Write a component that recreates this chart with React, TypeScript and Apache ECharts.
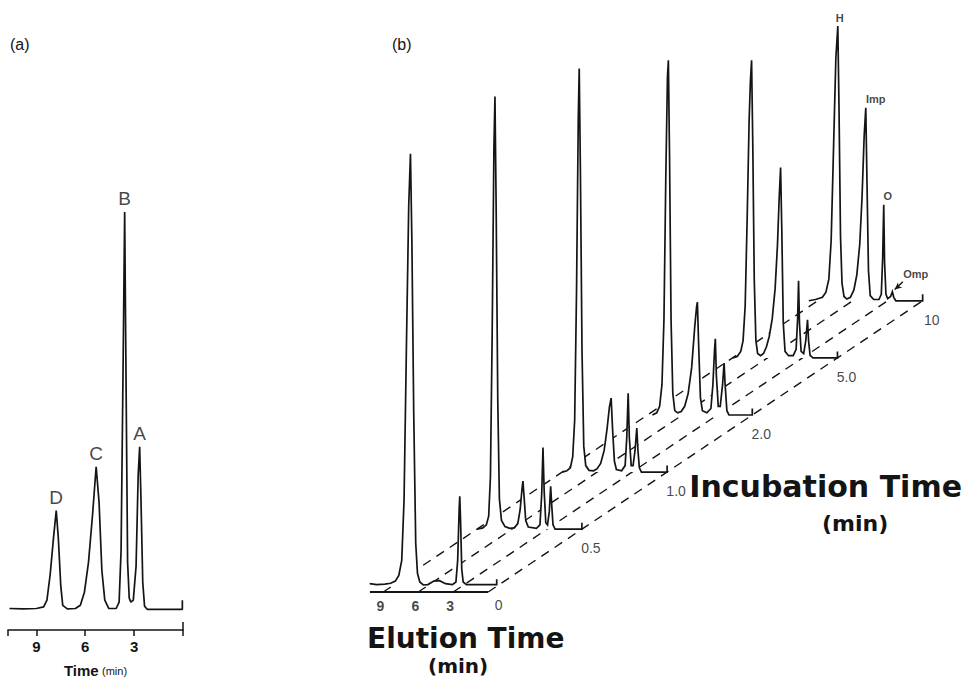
import React, { useEffect, useRef } from 'react';
import * as echarts from 'echarts';

// ---------- Panel (a): single chromatogram ----------
const elutionTicksA = [9, 6, 3];
// [elution time (min), detector signal (relative, B = 100)]
const traceA: [number, number][] = [
  [10.65, 0.4], [9.8, 0.3], [9.0, 0.4], [8.55, 0.8], [8.35, 2.5], [8.15, 9], [7.95, 18], [7.78, 25],
  [7.65, 18], [7.5, 6], [7.38, 1.2], [7.1, 0.3], [6.6, 0.4], [6.3, 1.2], [6.05, 4.5], [5.8, 12], [5.55, 24],
  [5.33, 36], [5.15, 27], [4.98, 10], [4.8, 2.5], [4.55, 0.4], [4.1, 0.4], [3.92, 2], [3.8, 15], [3.68, 60],
  [3.58, 100], [3.5, 60], [3.4, 12], [3.3, 3], [3.2, 2], [3.05, 2.5], [2.88, 11], [2.75, 34], [2.66, 41],
  [2.58, 28], [2.47, 7], [2.36, 1], [2.2, 0.2], [0.04, 0.2], [0.04, 2.5]
];
const peakNamesA = ['D', 'C', 'B', 'A'];
const peakTimesA = [7.78, 5.33, 3.58, 2.66];
const peakHeightsA = [25, 36, 100, 41];

// ---------- Panel (b): chromatograms vs incubation time ----------
const incubationLabels = ['0', '0.5', '1.0', '2.0', '5.0', '10'];
const elutionTicksB = [9, 6, 3, 0];
const elutionTickLabelsB = [9, 6, 3];
const trace0: [number, number][] = [
  [10.9, 0.6], [10.3, 0.4], [9.6, 0.5], [9.1, 0.7], [8.7, 1.2], [8.4, 2.5], [8.15, 6], [7.95, 20], [7.75, 55],
  [7.55, 88], [7.4, 100], [7.28, 80], [7.12, 40], [6.95, 10], [6.8, 3], [6.6, 1], [6.3, 0.3], [5.9, 0.4],
  [5.4, 1.2], [4.9, 1.3], [4.4, 0.6], [3.8, 0.4], [3.5, 1], [3.35, 6], [3.22, 18], [3.17, 20.8], [3.1, 15],
  [3.0, 4], [2.88, 1], [2.6, 0.4], [0, 0.4], [0, 1.6]
];
const trace05: [number, number][] = [
  [9.0, 0], [8.5, 0.3], [8.2, 1], [8.0, 3], [7.85, 12], [7.7, 45], [7.55, 88], [7.46, 100], [7.36, 75],
  [7.22, 30], [7.08, 7], [6.9, 2], [6.6, 0.6], [6.2, 0.2], [5.8, 0.3], [5.5, 1.3], [5.3, 4.5], [5.15, 9],
  [5.06, 11.1], [4.95, 7], [4.82, 2], [4.6, 0.5], [3.9, 0.2], [3.6, 1], [3.45, 8], [3.34, 18.9], [3.24, 9],
  [3.1, 1.5], [2.95, 1], [2.8, 4], [2.68, 9.9], [2.6, 6], [2.48, 1], [2.3, 0], [0, 0], [0, 1.5]
];
const trace10: [number, number][] = [
  [9.0, 0], [8.6, 0.3], [8.3, 1], [8.1, 3.5], [7.93, 12], [7.77, 42], [7.62, 82], [7.54, 93.3], [7.44, 70],
  [7.3, 28], [7.15, 6], [6.98, 1.5], [6.7, 0.4], [6.3, 0.3], [6.0, 0.8], [5.7, 2], [5.4, 5], [5.15, 10],
  [4.95, 15], [4.8, 17.1], [4.68, 10], [4.52, 2.5], [4.35, 0.6], [3.9, 0.3], [3.6, 1.5], [3.46, 8],
  [3.34, 18.2], [3.24, 8], [3.08, 1.5], [2.92, 1.5], [2.75, 5], [2.6, 10.2], [2.5, 5], [2.38, 1], [2.2, 0],
  [0, 0], [0, 1.5]
];
const trace20: [number, number][] = [
  [8.57, 0], [8.2, 0.5], [7.95, 2], [7.75, 7], [7.58, 22], [7.42, 55], [7.28, 78], [7.2, 82], [7.1, 60],
  [6.97, 22], [6.82, 5], [6.65, 1], [6.4, 0.5], [6.1, 0.8], [5.8, 2], [5.5, 5], [5.2, 11], [4.95, 20],
  [4.78, 25], [4.71, 26.1], [4.6, 16], [4.45, 4], [4.28, 1], [3.9, 0.5], [3.55, 1.5], [3.38, 7], [3.24, 15],
  [3.17, 17.6], [3.08, 9], [2.92, 2], [2.75, 2], [2.55, 7], [2.42, 12], [2.33, 7], [2.18, 1], [2.0, 0],
  [0, 0], [0, 1.5]
];
const trace50: [number, number][] = [
  [9.0, 0], [8.6, 0.3], [8.3, 1.5], [8.1, 4], [7.92, 12], [7.75, 32], [7.58, 55], [7.47, 64], [7.37, 68.8],
  [7.27, 50], [7.14, 18], [7.0, 4], [6.85, 1], [6.6, 0.5], [6.35, 1], [6.1, 2.5], [5.85, 5], [5.6, 9],
  [5.35, 16], [5.15, 26], [5.0, 37], [4.88, 44], [4.78, 30], [4.65, 8], [4.5, 1.5], [4.2, 0.5], [3.8, 0.5],
  [3.55, 2], [3.42, 9], [3.34, 17.8], [3.26, 8], [3.12, 1.5], [2.9, 1], [2.72, 4], [2.57, 8.8], [2.48, 4],
  [2.35, 0.6], [2.1, 0], [0, 0], [0, 1.5]
];
const trace100: [number, number][] = [
  [9.77, 0], [9.2, 0.3], [8.6, 0.8], [8.3, 2], [8.05, 5], [7.85, 14], [7.65, 35], [7.45, 56], [7.28, 63.5],
  [7.18, 45], [7.05, 15], [6.92, 4], [6.75, 1], [6.5, 0.4], [6.2, 0.8], [5.9, 2.5], [5.65, 6], [5.4, 13],
  [5.2, 24], [5.02, 38], [4.88, 44.6], [4.78, 28], [4.65, 7], [4.5, 1.2], [4.2, 0.3], [3.75, 0.3],
  [3.55, 1.5], [3.43, 10], [3.34, 22.2], [3.27, 9], [3.15, 1.5], [3.0, 0.5], [2.75, 1], [2.6, 2.1],
  [2.48, 0.8], [2.3, 0], [0, 0], [0, 1.5]
];
const tracesB = [trace0, trace05, trace10, trace20, trace50, trace100];
const peakNamesB = ['H', 'Imp', 'O', 'Omp'];
const peakTimesB = [7.28, 4.88, 3.34, 2.6];
const peakHeightsB = [63.5, 44.6, 22.2, 2.1];

// oblique projection of the incubation-time axis
const DX = 7.31; // elution-minutes shift per incubation step
const DY = 13.2; // signal-units shift per incubation step
const GAP = 0.1; // distance of first trace behind front edge
const BACK = tracesB.length - 1 + GAP;

const INK = '#141414';
const FONT = '"Liberation Sans", Arial, sans-serif';
const TITLE_FONT = '"DejaVu Sans", "Open Sans", sans-serif';

const proj = (t: number, s: number, d: number) => [-t + DX * d, s + DY * d];

function buildOption(): any {
  const dashed = elutionTicksB.map((t) => ({
    type: 'line', xAxisIndex: 1, yAxisIndex: 1, z: 1, silent: true, showSymbol: false,
    data: [proj(t, 0, 0), proj(t, 0, BACK)],
    lineStyle: { color: INK, width: 1.4, type: [9, 7] }
  }));

  const labelsB: any[] = [];
  tracesB.forEach((_tr, k) => {
    labelsB.push({
      value: proj(0, 0, k + GAP),
      label: {
        formatter: incubationLabels[k], position: 'bottom', distance: 12,
        offset: [k === 0 ? 2 : 9, 0], fontSize: 14, fontFamily: FONT, color: INK
      }
    });
  });
  elutionTickLabelsB.forEach((t) => {
    labelsB.push({
      value: proj(t, 0, 0),
      label: {
        formatter: String(t), position: 'bottom', distance: 7, offset: [-3, 0],
        fontSize: 14, fontWeight: 'bold', fontFamily: FONT, color: INK
      }
    });
  });
  const nameOffsets = [[2, 0], [10, 0], [4, 0], [0, 0]];
  peakNamesB.forEach((n, i) => {
    if (n === 'Omp') return;
    labelsB.push({
      value: proj(peakTimesB[i], peakHeightsB[i], BACK),
      label: {
        formatter: n, position: 'top', distance: 3, offset: nameOffsets[i],
        fontSize: 11, fontWeight: 'bold', fontFamily: FONT, color: INK
      }
    });
  });
  const ompT = peakTimesB[3];
  const ompH = peakHeightsB[3];
  const ompTip = proj(ompT - 0.2, ompH + 0.5, BACK);
  const ompTail = proj(ompT - 0.9, ompH + 2.3, BACK);
  labelsB.push({
    value: proj(ompT - 2.0, ompH + 4.2, BACK),
    label: {
      formatter: 'Omp', position: 'inside', fontSize: 11, fontWeight: 'bold', fontFamily: FONT, color: INK
    }
  });

  const labelsA = peakNamesA.map((n, i) => ({
    value: [peakTimesA[i], peakHeightsA[i]],
    label: {
      formatter: n, position: 'top', distance: 4, offset: [0, 0],
      fontSize: 19, fontFamily: FONT, color: INK
    }
  }));

  const order = tracesB.map((_, k) => [tracesB.length - 1 - k]);

  return {
    animation: false,
    backgroundColor: '#fff',
    grid: [
      { left: 8, top: 212, width: 175, height: 421 },
      { left: 360, top: 8, width: 606, height: 584 }
    ],
    xAxis: [
      {
        gridIndex: 0, type: 'value', min: 0, max: 10.74, interval: 3, inverse: true,
        axisLine: { show: true, onZero: false, lineStyle: { color: INK, width: 1.5 } },
        axisTick: { show: true, length: 6, lineStyle: { color: INK, width: 1.5 } },
        axisLabel: {
          formatter: (v: number) => (elutionTicksA.includes(v) ? String(v) : ''),
          fontSize: 15, fontWeight: 'bold', fontFamily: FONT, color: INK, margin: 9
        },
        splitLine: { show: false },
        name: '{t|Time} {m|(min)}', nameLocation: 'middle', nameGap: 33,
        nameTextStyle: {
          rich: {
            t: { fontSize: 15, fontWeight: 'bold', fontFamily: FONT, color: INK },
            m: { fontSize: 11, fontFamily: FONT, color: INK }
          }
        }
      },
      { gridIndex: 1, type: 'value', min: -11, max: 41, show: false }
    ],
    yAxis: [
      { gridIndex: 0, type: 'value', min: -5, max: 100, show: false },
      { gridIndex: 1, type: 'value', min: 0, max: 135, show: false }
    ],
    series: [
      {
        type: 'line', xAxisIndex: 0, yAxisIndex: 0, data: traceA, showSymbol: false, silent: true,
        lineStyle: { color: INK, width: 1.7 }, z: 3, clip: false
      },
      {
        type: 'line', xAxisIndex: 0, yAxisIndex: 0, data: [[0, -5], [0, -3]], showSymbol: false, silent: true,
        lineStyle: { color: INK, width: 1.5 }, z: 3, clip: false
      },
      {
        type: 'scatter', xAxisIndex: 0, yAxisIndex: 0, symbolSize: 0, silent: true,
        label: { show: true }, data: labelsA, z: 5
      },
      {
        type: 'line', xAxisIndex: 1, yAxisIndex: 1, showSymbol: false, silent: true, z: 1,
        data: [proj(10.15, 0, 0), proj(0, 0, 0)], lineStyle: { color: INK, width: 1.8 }
      },
      ...dashed,
      {
        type: 'custom', xAxisIndex: 1, yAxisIndex: 1, z: 3, silent: true, clip: false,
        data: order,
        renderItem: (_params: any, api: any) => {
          const k = api.value(0) as number;
          const d = k + GAP;
          const tr = tracesB[k];
          const pts = tr.map(([t, s]) => api.coord(proj(t, s, d)));
          const b0 = api.coord(proj(tr[0][0], 0, d));
          const bN = api.coord(proj(tr[tr.length - 1][0], 0, d));
          const z = (tracesB.length - 1 - k) * 2;
          return {
            type: 'group',
            children: [
              { type: 'polygon', z2: z, shape: { points: [b0, ...pts, bN] }, style: { fill: '#ffffff', stroke: null } },
              { type: 'polyline', z2: z + 1, shape: { points: pts }, style: { fill: null, stroke: INK, lineWidth: 1.7 } }
            ]
          };
        }
      },
      {
        type: 'line', xAxisIndex: 1, yAxisIndex: 1, z: 4, silent: true, showSymbol: true,
        data: [
          { value: ompTail, symbol: 'none' },
          { value: ompTip, symbol: 'arrow', symbolSize: [5, 7], symbolRotate: 130 }
        ],
        lineStyle: { color: INK, width: 1.4 }, itemStyle: { color: INK }
      },
      {
        type: 'scatter', xAxisIndex: 1, yAxisIndex: 1, symbolSize: 0, silent: true, z: 5,
        label: { show: true }, data: labelsB
      }
    ],
    graphic: [
      { type: 'text', left: 10, top: 36, style: { text: '(a)', fontSize: 16, fontFamily: FONT, fill: INK } },
      { type: 'text', left: 392, top: 36, style: { text: '(b)', fontSize: 16, fontFamily: FONT, fill: INK } },
      { type: 'text', left: 367, top: 624, style: { text: 'Elution Time', fontSize: 28, fontWeight: 'bold', fontFamily: TITLE_FONT, fill: INK } },
      { type: 'text', left: 428, top: 656, style: { text: '(min)', fontSize: 20, fontWeight: 'bold', fontFamily: TITLE_FONT, fill: INK } },
      { type: 'text', right: 4, top: 471, style: { text: 'Incubation Time', fontSize: 30, fontWeight: 'bold', fontFamily: TITLE_FONT, fill: INK } },
      { type: 'text', left: 822, top: 512, style: { text: '(min)', fontSize: 22, fontWeight: 'bold', fontFamily: TITLE_FONT, fill: INK } }
    ]
  };
}

export default function App() {
  const ref = useRef<HTMLDivElement>(null);
  useEffect(() => {
    if (!ref.current) return;
    const chart = echarts.init(ref.current, null, { renderer: 'svg' });
    chart.setOption(buildOption());
    return () => chart.dispose();
  }, []);
  return <div ref={ref} style={{ position: 'fixed', left: 0, top: 0, width: 966, height: 683, background: '#fff' }} />;
}
